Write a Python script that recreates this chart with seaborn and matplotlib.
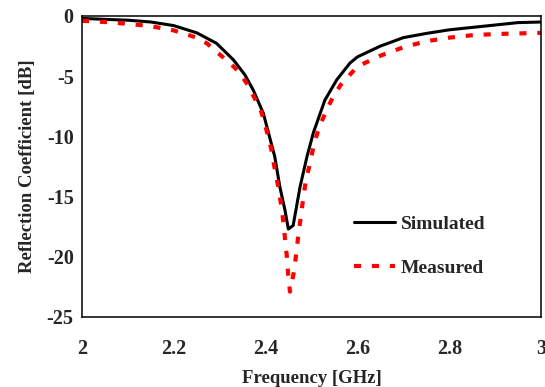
import matplotlib
matplotlib.use("Agg")
import matplotlib.pyplot as plt
import numpy as np
import pandas as pd
import seaborn as sns

# Simulated curve (frequency GHz, reflection dB)
sim_freq = [2.0, 2.05, 2.1, 2.15, 2.2, 2.25, 2.293, 2.33, 2.355, 2.373, 2.395, 2.42,
            2.431, 2.442, 2.4495, 2.46, 2.475, 2.49, 2.504, 2.529, 2.555, 2.584,
            2.6, 2.65, 2.7, 2.75, 2.8, 2.85, 2.9, 2.95, 3.0]
sim_db = [-0.2, -0.28, -0.35, -0.5, -0.8, -1.4, -2.27, -3.65, -4.9, -6.15, -8.08, -11.7,
          -14.2, -16.1, -17.7, -17.4, -14.2, -11.7, -9.7, -7.0, -5.3, -3.9,
          -3.4, -2.5, -1.8, -1.45, -1.15, -0.95, -0.75, -0.55, -0.5]

# Measured curve
meas_freq = [2.0, 2.05, 2.1, 2.15, 2.2, 2.25, 2.272, 2.297, 2.319, 2.341, 2.359, 2.375,
             2.391, 2.402, 2.412, 2.419, 2.426, 2.433, 2.438, 2.442, 2.446, 2.449,
             2.453, 2.4625, 2.467, 2.472, 2.477, 2.482, 2.488, 2.497, 2.505, 2.517,
             2.532, 2.547, 2.564, 2.6, 2.65, 2.7, 2.75, 2.8, 2.85, 2.9, 2.95, 3.0]
meas_db = [-0.4, -0.5, -0.65, -0.85, -1.2, -1.8, -2.27, -3.1, -3.8, -4.6, -5.6, -6.75,
           -8.0, -9.5, -11.0, -12.5, -13.9, -15.5, -16.9, -18.4, -19.9, -21.4,
           -22.9, -21.1, -19.6, -18.0, -16.6, -15.1, -13.6, -12.2, -10.7, -9.2,
           -7.9, -6.7, -5.7, -4.2, -3.3, -2.6, -2.1, -1.8, -1.6, -1.5, -1.45, -1.4]

x_ticks = [2, 2.2, 2.4, 2.6, 2.8, 3]
x_tick_labels = ["2", "2.2", "2.4", "2.6", "2.8", "3"]
y_ticks = [0, -5, -10, -15, -20, -25]


def main() -> None:
    sns.set_theme(style="white")
    plt.rcParams["font.family"] = ["Liberation Serif", "DejaVu Serif"]
    plt.rcParams["font.weight"] = "bold"
    plt.rcParams["axes.unicode_minus"] = False

    sim = pd.DataFrame({"freq": sim_freq, "db": sim_db})
    meas = pd.DataFrame({"freq": meas_freq, "db": meas_db})

    fig, ax = plt.subplots(figsize=(5.45, 3.87), dpi=100)
    fig.subplots_adjust(left=0.1505, right=0.9927, bottom=0.181, top=0.9587)

    sns.lineplot(data=sim, x="freq", y="db", color="black", linewidth=2.2,
                 label="Simulated", ax=ax, sort=False)
    sns.lineplot(data=meas, x="freq", y="db", color="red", linewidth=3.0,
                 label="Measured", ax=ax, sort=False, dashes=False)
    ax.lines[1].set_dashes((1.7, 2.6))

    ax.set_xlim(2, 3)
    ax.set_ylim(-25, 0)
    ax.set_xticks(x_ticks)
    ax.set_xticklabels(x_tick_labels)
    ax.set_yticks(y_ticks)
    ax.tick_params(axis="both", direction="in", length=5, width=1, labelsize=14.5,
                   color="black")
    ax.tick_params(axis="x", pad=16)
    ax.tick_params(axis="y", pad=6)
    for lbl in ax.get_xticklabels() + ax.get_yticklabels():
        lbl.set_fontweight("bold")
    for sp in ax.spines.values():
        sp.set_color("black")
        sp.set_linewidth(1.1)

    ax.set_xlabel("Frequency [GHz]", fontsize=13.5, fontweight="bold", labelpad=8)
    ax.set_ylabel("Reflection Coefficient [dB]", fontsize=13.5, fontweight="bold", labelpad=8)

    ax.legend(loc="center left", bbox_to_anchor=(0.555, 0.236), frameon=False,
              handlelength=2.1, handletextpad=0.3, labelspacing=1.35,
              prop={"weight": "bold", "size": 14})
    fig.savefig("out.png", dpi=100)
    plt.close(fig)


if __name__ == "__main__":
    main()
